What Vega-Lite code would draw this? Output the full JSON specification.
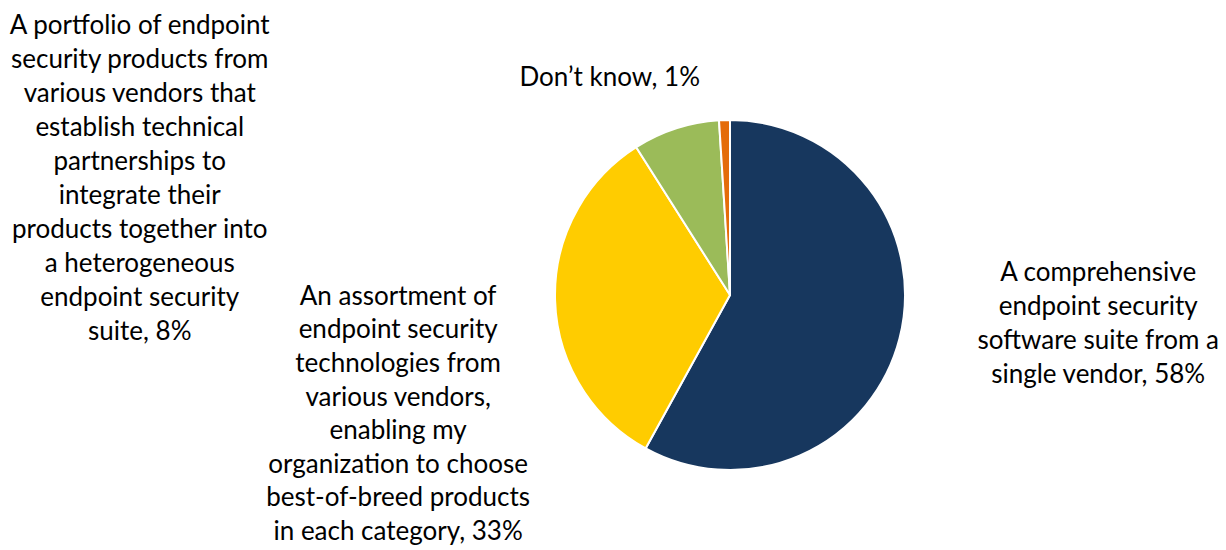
{
  "$schema": "https://vega.github.io/schema/vega-lite/v6.json",
  "width": 992,
  "height": 510,
  "autosize": {"type": "none"},
  "padding": {"left": 234, "top": 40, "right": 0, "bottom": 0},
  "background": "white",
  "view": {"stroke": null},
  "data": {
    "values": [
      {"category": "Comprehensive", "value": 58, "label": "A comprehensive\nendpoint security\nsoftware suite from a\nsingle vendor, 58%"},
      {"category": "Assortment", "value": 33, "label": "An assortment of\nendpoint security\ntechnologies from\nvarious vendors,\nenabling my\norganization to choose\nbest-of-breed products\nin each category, 33%"},
      {"category": "Portfolio", "value": 8, "label": "A portfolio of endpoint\nsecurity products from\nvarious vendors that\nestablish technical\npartnerships to\nintegrate their\nproducts together into\na heterogeneous\nendpoint security\nsuite, 8%"},
      {"category": "DontKnow", "value": 1, "label": "Don’t know, 1%"}
    ]
  },
  "encoding": {
    "theta": {"field": "value", "type": "quantitative", "stack": true},
    "order": {"field": "value", "sort": "descending"}
  },
  "layer": [
    {
      "mark": {"type": "arc", "outerRadius": 175, "stroke": "white", "strokeWidth": 2},
      "encoding": {
        "color": {
          "field": "category",
          "type": "nominal",
          "scale": {
            "domain": ["Comprehensive", "Assortment", "Portfolio", "DontKnow"],
            "range": ["#17375E", "#FFCC00", "#9BBB59", "#E46C0A"]
          },
          "legend": null
        }
      }
    },
    {
      "mark": {"type": "text", "radius": 250, "dx": 126, "dy": -84, "align": "center", "baseline": "middle", "lineBreak": "\n", "lineHeight": 34, "font": "Lato", "fontSize": 26, "color": "black"},
      "encoding": {"text": {"condition": {"test": "datum.category === 'Comprehensive'", "field": "label"}, "value": ""}}
    },
    {
      "mark": {"type": "text", "radius": 250, "dx": -82, "dy": -6, "align": "center", "baseline": "middle", "lineBreak": "\n", "lineHeight": 33.6, "font": "Lato", "fontSize": 26, "color": "black"},
      "encoding": {"text": {"condition": {"test": "datum.category === 'Assortment'", "field": "label"}, "value": ""}}
    },
    {
      "mark": {"type": "text", "radius": 250, "dx": -513, "dy": -31, "align": "center", "baseline": "middle", "lineBreak": "\n", "lineHeight": 34, "font": "Lato", "fontSize": 26, "color": "black"},
      "encoding": {"text": {"condition": {"test": "datum.category === 'Portfolio'", "field": "label"}, "value": ""}}
    },
    {
      "mark": {"type": "text", "radius": 200, "dx": -114, "dy": -17, "align": "center", "baseline": "middle", "lineBreak": "\n", "lineHeight": 34, "font": "Lato", "fontSize": 26, "color": "black"},
      "encoding": {"text": {"condition": {"test": "datum.category === 'DontKnow'", "field": "label"}, "value": ""}}
    }
  ]
}
